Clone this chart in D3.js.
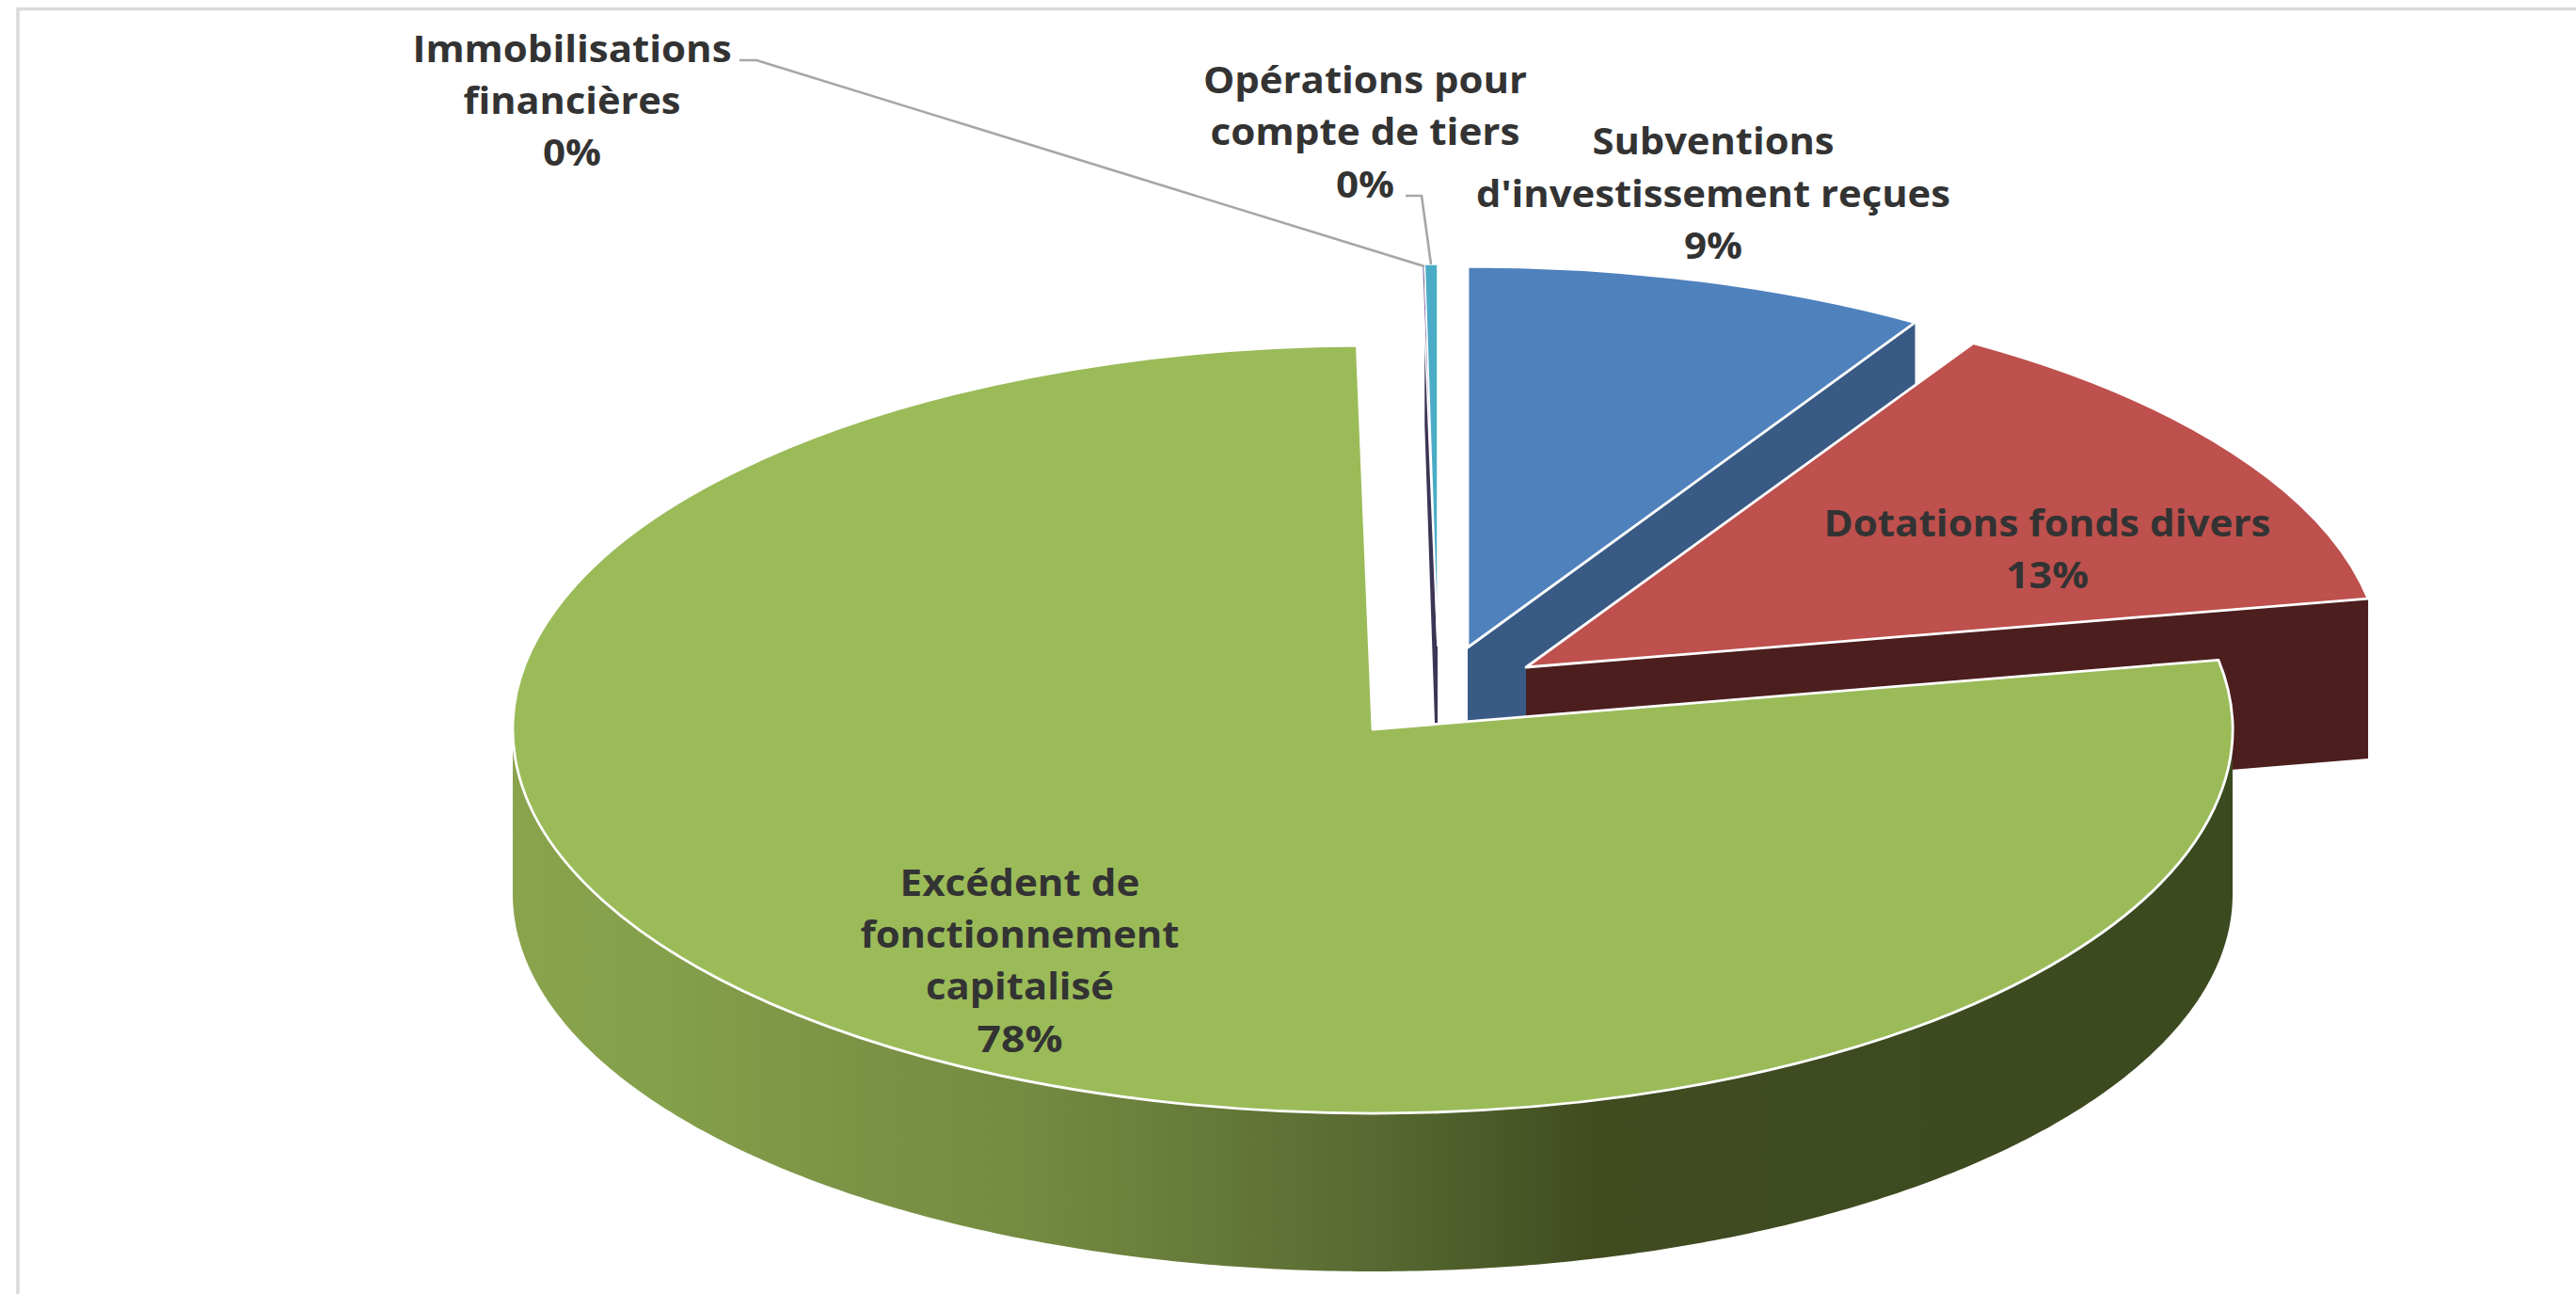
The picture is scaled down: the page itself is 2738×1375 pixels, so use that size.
<!DOCTYPE html>
<html lang="fr">
<head>
<meta charset="utf-8">
<title>Répartition des recettes d'investissement</title>
<script src="https://cdn.jsdelivr.net/npm/d3@7"></script>
<style>
html,body{margin:0;padding:0;background:#fff;overflow:hidden}
svg{display:block}
text{font-family:"Open Sans","Noto Sans",sans-serif;font-weight:700;fill:#333}
</style>
</head>
<body>
<svg id="chart" width="2738" height="1375"></svg>
<script>
// ---- data (share of total, %) ----
const categories = ["Subventions d'investissement reçues","Dotations fonds divers","Excédent de fonctionnement capitalisé","Immobilisations financières","Opérations pour compte de tiers"];
const values = [8.75, 13.36, 77.6, 0.05, 0.24];
const topColors  = ["#4F81BD","#BE504D","#9BBB59","#8064A2","#4BACC6"];
const wallColors = ["#385A84","#4C1E1E","#5F7332","#3D3555","#2F6F80"];
const labelLines = [
  ["Subventions","d'investissement reçues"],
  ["Dotations fonds divers"],
  ["Excédent de","fonctionnement","capitalisé"],
  ["Immobilisations","financières"],
  ["Opérations pour","compte de tiers"]
];

// ---- layout (pixels) ----
const W = 2738, H = 1375, DEPTH = 170;
const discs = [
  {cx:1560, cy:688, rx:910, ry:405},
  {cx:1622, cy:709, rx:910, ry:404},
  {cx:1459, cy:775, rx:914, ry:408},
  {cx:1528, cy:686, rx:913, ry:405},
  {cx:1528, cy:686, rx:913, ry:405}
];
const labelLayout = [
  {x:1821, baselines:[164,220,275], widths:[257,504,62]},
  {x:2176, baselines:[570,625],     widths:[475,88]},
  {x:1084, baselines:[952,1007,1062,1118], widths:[255,339,200,91]},
  {x:608,  baselines:[66,121,176],  widths:[339,231,62]},
  {x:1451, baselines:[99,154,210],  widths:[344,329,62]}
];
const leaders = [
  {slice:3, elbow:[[786,64],[804,64]], end:[1514,283]},
  {slice:4, elbow:[[1494,208],[1511,208]], end:[1521,281]}
];
const wallStops = [[0,"#8AA34D"],[0.085,"#84A04A"],[0.195,"#7C9346"],[0.293,"#748C42"],[0.415,"#647838"],[0.495,"#5A6A32"],[0.555,"#4E5E2A"],[0.63,"#404B20"],[1,"#3C4A20"]];

const svg = d3.select("#chart");
const defs = svg.append("defs");
const grad = defs.append("linearGradient").attr("id","greenWall").attr("gradientUnits","userSpaceOnUse")
  .attr("x1",discs[2].cx-discs[2].rx).attr("x2",discs[2].cx+discs[2].rx).attr("y1",0).attr("y2",0);
grad.selectAll("stop").data(wallStops).join("stop").attr("offset",d=>d[0]).attr("stop-color",d=>d[1]);

// frame
const frame = d3.line();
svg.append("path").attr("d",frame([[19,H],[19,9.5],[W,9.5]])).attr("fill","none").attr("stroke","#DADADA").attr("stroke-width",3.6);

// pie angles from the values
const arcs = d3.pie().sort(null).startAngle(0).endAngle(2*Math.PI)(values);
const pctOf = d3.scaleLinear().domain([0,d3.sum(values)]).range([0,100]);

function unit(a){ return [Math.sin(a), -Math.cos(a)]; }
function project(d, a, extra){
  const x = d3.scaleLinear().domain([-1,1]).range([d.cx-d.rx,d.cx+d.rx]);
  const y = d3.scaleLinear().domain([-1,1]).range([d.cy-d.ry,d.cy+d.ry]);
  const u = unit(a);
  return [x(u[0]), y(u[1])+(extra||0)];
}
function radialWall(i, a){
  const d = discs[i];
  const tip = project(d,a,0), tipB = project(d,a,DEPTH);
  return d3.line()([[d.cx,d.cy],tip,tipB,[d.cx,d.cy+DEPTH]])+"Z";
}
function drawTop(i, sw){
  const d = discs[i], a = arcs[i];
  const gen = d3.arc().innerRadius(0).outerRadius(d.rx);
  svg.append("g").attr("transform",`translate(${d.cx},${d.cy}) scale(1,${d.ry/d.rx})`)
    .append("path").attr("d",gen({startAngle:a.startAngle,endAngle:a.endAngle}))
    .attr("fill",topColors[i])
    .attr("stroke","#fff").attr("stroke-width",sw)
    .attr("stroke-linejoin","round")
    .attr("vector-effect","non-scaling-stroke");
}

// back slices first, painter's order
svg.append("path").attr("d",radialWall(0,arcs[0].endAngle)).attr("fill",wallColors[0]);
svg.append("path").attr("d",radialWall(4,arcs[4].startAngle)).attr("fill",wallColors[3]);
drawTop(0,2.8);
drawTop(3,1.6);
drawTop(4,1.6);
svg.append("path").attr("d",radialWall(1,arcs[1].endAngle)).attr("fill",wallColors[1]);
drawTop(1,2.8);

// outer wall of the large slice
(function(){
  const d = discs[2], b = {cx:d.cx, cy:d.cy+175, rx:d.rx, ry:401};
  const angles = d3.range(90,270.01,0.5).map(v=>v*Math.PI/180);
  const pts = angles.map(a=>project(d,a,0)).concat(angles.slice().reverse().map(a=>project(b,a,0)));
  svg.append("path").attr("d",d3.line()(pts)+"Z").attr("fill","url(#greenWall)");
})();
drawTop(2,2.8);

// leader lines
leaders.forEach(l=>{
  svg.append("path").attr("d",d3.line()(l.elbow.concat([l.end])))
    .attr("fill","none").attr("stroke","#A6A6A6").attr("stroke-width",2.6).attr("stroke-linejoin","round");
});

// labels
labelLines.forEach((lines,i)=>{
  const L = labelLayout[i];
  const pct = d3.format(".0f")(pctOf(values[i]))+"%";
  lines.concat([pct]).forEach((t,k)=>{
    svg.append("text").attr("x",L.x).attr("y",L.baselines[k]).attr("text-anchor","middle")
      .attr("font-size",40).attr("textLength",L.widths[k]).attr("lengthAdjust","spacingAndGlyphs").text(t);
  });
});
</script>
</body>
</html>
